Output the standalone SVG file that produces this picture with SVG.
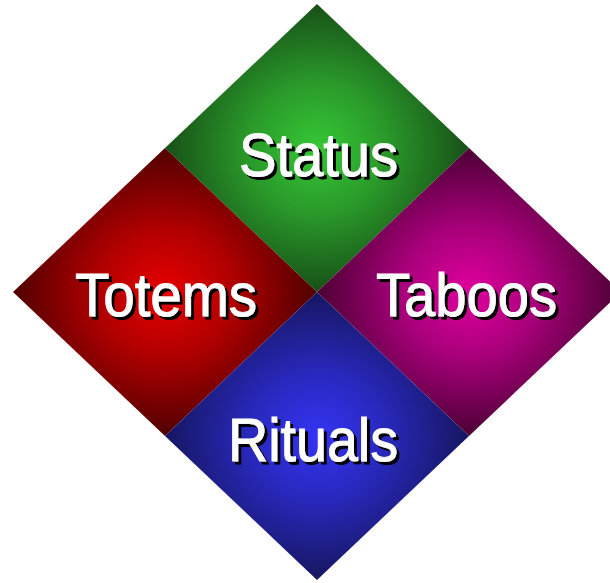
<svg xmlns="http://www.w3.org/2000/svg" width="610" height="583" viewBox="0 0 610 583">
<defs>
<radialGradient id="gG" cx="0.5" cy="0.5" r="0.5"><stop offset="0" stop-color="#35c835"/><stop offset="0.45" stop-color="#2a9a2a"/><stop offset="1" stop-color="#175017"/></radialGradient>
<radialGradient id="gR" cx="0.5" cy="0.5" r="0.5"><stop offset="0" stop-color="#e80000"/><stop offset="0.45" stop-color="#b00000"/><stop offset="1" stop-color="#500000"/></radialGradient>
<radialGradient id="gM" cx="0.5" cy="0.5" r="0.5"><stop offset="0" stop-color="#e0009e"/><stop offset="0.45" stop-color="#a8007a"/><stop offset="1" stop-color="#4c0034"/></radialGradient>
<radialGradient id="gB" cx="0.5" cy="0.5" r="0.5"><stop offset="0" stop-color="#3434f4"/><stop offset="0.45" stop-color="#2828bc"/><stop offset="1" stop-color="#161660"/></radialGradient>
<filter id="sh" x="-10%" y="-20%" width="130%" height="150%">
<feOffset in="SourceAlpha" dx="3" dy="3" result="o"/>
<feMerge><feMergeNode in="o"/><feMergeNode in="SourceGraphic"/></feMerge>
</filter>
</defs>
<style>
.t{font-family:"Liberation Sans",Arial,sans-serif;font-size:62px;fill:#ffffff;stroke:#ffffff;stroke-width:0.9px;filter:url(#sh);}
</style>
<rect width="610" height="583" fill="#ffffff"/>
<g id="status">
<polygon points="317,4 469,148 317,292 165,148" fill="url(#gG)"/>
<text class="t" x="239" y="176" textLength="159" lengthAdjust="spacingAndGlyphs">Status</text>
</g>
<g id="totems">
<polygon points="165,148 317,292 165,436 13,292" fill="url(#gR)"/>
<text class="t" x="75" y="316" textLength="182" lengthAdjust="spacingAndGlyphs">Totems</text>
</g>
<g id="taboos">
<polygon points="469,148 621,292 469,436 317,292" fill="url(#gM)"/>
<text class="t" x="376" y="316" textLength="181" lengthAdjust="spacingAndGlyphs">Taboos</text>
</g>
<g id="rituals">
<polygon points="317,292 469,436 317,580 165,436" fill="url(#gB)"/>
<text class="t" x="228" y="461" textLength="170" lengthAdjust="spacingAndGlyphs">Rituals</text>
</g>
<g id="connectors"/>
</svg>
